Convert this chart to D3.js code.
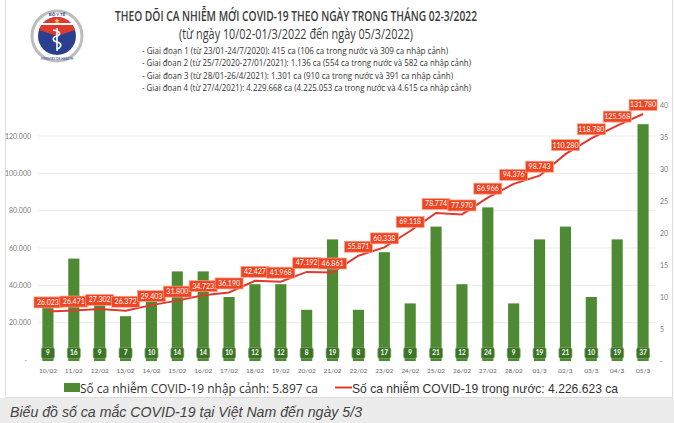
<!DOCTYPE html>
<html><head><meta charset="utf-8">
<script src="https://cdn.jsdelivr.net/npm/d3@7"></script>
<style>
html,body{margin:0;padding:0;background:#fff;}
svg{display:block;}
</style></head>
<body>
<svg id="chart" width="674" height="423"></svg>
<script>
const dates = ["10/02","11/02","12/02","13/02","14/02","15/02","16/02","17/02","18/02","19/02","20/02","21/02","22/02","23/02","24/02","25/02","26/02","27/02","28/02","01/3","02/3","03/3","04/3","05/3"];
const importCases = [9,16,9,7,10,14,14,10,12,12,8,19,8,17,9,21,12,24,9,19,21,10,19,37];
const domesticCases = [26023,26471,27302,26372,29403,31800,34723,36190,42427,41968,47192,46861,55871,60338,69118,78774,77970,86966,94376,98743,110280,118780,125568,131780];
const leftTicks = [0,20000,40000,60000,80000,100000,120000];
const rightTicks = [0,5,10,15,20,25,30,35,40];
const titleText = "THEO DÕI CA NHIỄM MỚI COVID-19 THEO NGÀY TRONG THÁNG 02-3/2022";
const subtitleText = "(từ ngày 10/02-01/3/2022 đến ngày 05/3/2022)";
const phaseLines = [
  "- Giai đoạn 1 (từ 23/01-24/7/2020): 415 ca (106 ca trong nước và 309 ca nhập cảnh)",
  "- Giai đoạn 2 (từ 25/7/2020-27/01/2021): 1.136 ca (554 ca trong nước và 582 ca nhập cảnh)",
  "- Giai đoạn 3 (từ 28/01-26/4/2021): 1.301 ca (910 ca trong nước và 391 ca nhập cảnh)",
  "- Giai đoạn 4 (từ 27/4/2021): 4.229.668 ca (4.225.053 ca trong nước và 4.615 ca nhập cảnh)"
];
const legendBar = "Số ca nhiễm COVID-19 nhập cảnh: 5.897 ca";
const legendLine = "Số ca nhiễm COVID-19 trong nước: 4.226.623 ca";
const caption = "Biểu đồ số ca mắc COVID-19 tại Việt Nam đến ngày 5/3";

const svg = d3.select("#chart");
const fmt = d3.formatLocale({decimal:",", thousands:".", grouping:[3], currency:["",""]}).format(",");
const F = "Lato, 'Open Sans', sans-serif";

// frame + caption bar
svg.append("rect").attr("x",0).attr("y",0).attr("width",674).attr("height",423).attr("fill","#fff");
svg.append("rect").attr("x",5.5).attr("y",-1).attr("width",667).attr("height",398.5).attr("fill","#fff").attr("stroke","#dcdcdc");
svg.append("rect").attr("x",0).attr("y",398).attr("width",674).attr("height",25).attr("fill","#ececec");
svg.append("text").attr("x",10).attr("y",417).attr("font-family","'Liberation Sans', Arial, sans-serif")
  .attr("font-style","italic").attr("font-size",15).attr("fill","#444").attr("textLength",352).attr("lengthAdjust","spacingAndGlyphs").text(caption);

// logo
const logo = svg.append("g").attr("transform","translate(57,36)");
logo.append("circle").attr("r",25).attr("fill","#fff").attr("stroke","#bdbdbd").attr("stroke-width",3);
logo.append("circle").attr("r",19).attr("fill","#2b3f8f");
logo.append("path").attr("d",d3.arc()({innerRadius:0,outerRadius:19,startAngle:-1.25,endAngle:1.25})).attr("fill","#e03a2f");
logo.append("rect").attr("x",-18).attr("y",-13).attr("width",36).attr("height",2).attr("fill","#fff");
logo.append("path").attr("d",d3.symbol(d3.symbolStar,10)()).attr("transform","translate(0,-15)").attr("fill","#ffd54a");
logo.append("line").attr("x1",0).attr("y1",-8).attr("x2",0).attr("y2",15).attr("stroke","#fff").attr("stroke-width",1.6);
logo.append("path").attr("d","M-4,-6 C4,-5 4,-1 0,0 C-5,1 -5,5 0,6 C5,7 5,11 0,13").attr("fill","none").attr("stroke","#fff").attr("stroke-width",1.6);
logo.append("text").attr("y",-20).attr("text-anchor","middle").attr("font-family",F).attr("font-size",4.5).attr("font-weight",700).attr("fill","#2b3f8f").text("BỘ Y TẾ");
logo.append("text").attr("y",24).attr("text-anchor","middle").attr("font-family",F).attr("font-size",3.2).attr("fill","#2b3f8f").text("MINISTRY OF HEALTH");

// titles
svg.append("text").attr("x",115).attr("y",21).attr("font-family","'Open Sans', sans-serif").attr("font-weight",600)
  .attr("font-size",13.5).attr("fill","#3b3b3b").attr("textLength",362).attr("lengthAdjust","spacingAndGlyphs").text(titleText);
svg.append("text").attr("x",179).attr("y",39).attr("font-family","'Open Sans', sans-serif")
  .attr("font-size",14).attr("fill","#3b3b3b").attr("textLength",234).attr("lengthAdjust","spacingAndGlyphs").text(subtitleText);
const phaseLen = [306, 329, 311, 329];
phaseLines.forEach((t,i)=>{
  svg.append("text").attr("x",142).attr("y",54+i*12.3).attr("font-family","'Open Sans', sans-serif")
    .attr("font-size",9.4).attr("fill","#333").attr("textLength",phaseLen[i]).attr("lengthAdjust","spacingAndGlyphs").text(t);
});

// scales
const x = d3.scaleBand().domain(dates).range([35,656]).paddingInner(0.57).paddingOuter(0.285);
const yL = d3.scaleLinear().domain([0,140000]).range([360, 360-140*1.8667]);
const yR = d3.scaleLinear().domain([0,40]).range([361,105]);

// gridlines
svg.append("g").selectAll("line").data(leftTicks.slice(1)).join("line")
  .attr("x1",38).attr("x2",655).attr("y1",d=>yL(d)).attr("y2",d=>yL(d))
  .attr("stroke","#ececec").attr("stroke-width",1);

// left axis
const axL = svg.append("g").attr("transform","translate(33,0)")
  .call(d3.axisLeft(yL).tickValues(leftTicks).tickSize(0).tickPadding(2).tickFormat(d=>d===0?"-":fmt(d)));
axL.select(".domain").remove();
axL.selectAll("text").attr("font-family",F).attr("font-size",7).attr("fill","#7a7a7a");
axL.selectAll(".tick").filter(d=>d===0).select("text").attr("dx",-4);

// right axis
const axR = svg.append("g").attr("transform","translate(658,0)")
  .call(d3.axisRight(yR).tickValues(rightTicks).tickSize(0).tickPadding(2).tickFormat(d=>d===0?"-":d));
axR.select(".domain").remove();
axR.selectAll("text").attr("font-family",F).attr("font-size",7).attr("fill","#7a7a7a");

// x axis
const axX = svg.append("g").attr("transform","translate(0,366)")
  .call(d3.axisBottom(x).tickSize(0).tickPadding(2));
axX.select(".domain").remove();
axX.selectAll("text").attr("font-family",F).attr("font-size",6.5).attr("fill","#666");

// bars
svg.append("g").selectAll("rect").data(importCases).join("rect")
  .attr("x",(d,i)=>x(dates[i])).attr("width",x.bandwidth())
  .attr("y",d=>yR(d)).attr("height",d=>yR(0)-yR(d)).attr("fill","#4e8a34");

// bar labels
const bl = svg.append("g").selectAll("g").data(importCases).join("g")
  .attr("transform",(d,i)=>`translate(${x(dates[i])+x.bandwidth()/2},353)`);
bl.append("rect").attr("x",-6.5).attr("y",-5.5).attr("width",13).attr("height",11).attr("rx",2)
  .attr("fill","#3c7327").attr("stroke","#79a862").attr("stroke-width",0.7);
bl.append("text").attr("text-anchor","middle").attr("dy","0.35em").attr("font-family",F).attr("font-size",6.5)
  .attr("font-weight",700).attr("fill","#fff").text(d=>d);

// line
const cx = (i)=>x(dates[i])+x.bandwidth()/2;
svg.append("path").datum(domesticCases)
  .attr("d",d3.line().x((d,i)=>cx(i)).y(d=>yL(d)))
  .attr("fill","none").attr("stroke","#e03a2e").attr("stroke-width",2);

// line labels
const ll = svg.append("g").selectAll("g").data(domesticCases).join("g")
  .attr("transform",(d,i)=>`translate(${cx(i)},${yL(d)-9})`);
ll.append("rect").attr("x",-14).attr("y",-5.5).attr("width",28).attr("height",11)
  .attr("fill","#ef4522").attr("stroke","#f8a58f").attr("stroke-width",0.7);
ll.append("text").attr("text-anchor","middle").attr("dy","0.35em").attr("font-family",F).attr("font-size",7)
  .attr("fill","#fff").text(d=>fmt(d));

// legend
svg.append("rect").attr("x",64).attr("y",383).attr("width",16).attr("height",9).attr("fill","#4e8a34");
svg.append("text").attr("x",80).attr("y",392.5).attr("font-family","'Open Sans', sans-serif").attr("font-size",13)
  .attr("fill","#333").attr("textLength",238).attr("lengthAdjust","spacingAndGlyphs").text(legendBar);
svg.append("line").attr("x1",335).attr("x2",352).attr("y1",387.5).attr("y2",387.5).attr("stroke","#e03a2e").attr("stroke-width",2);
svg.append("text").attr("x",352).attr("y",392.5).attr("font-family","'Liberation Sans', Arial, sans-serif").attr("font-size",13)
  .attr("fill","#333").attr("textLength",266).attr("lengthAdjust","spacingAndGlyphs").text(legendLine);
</script>
</body></html>
